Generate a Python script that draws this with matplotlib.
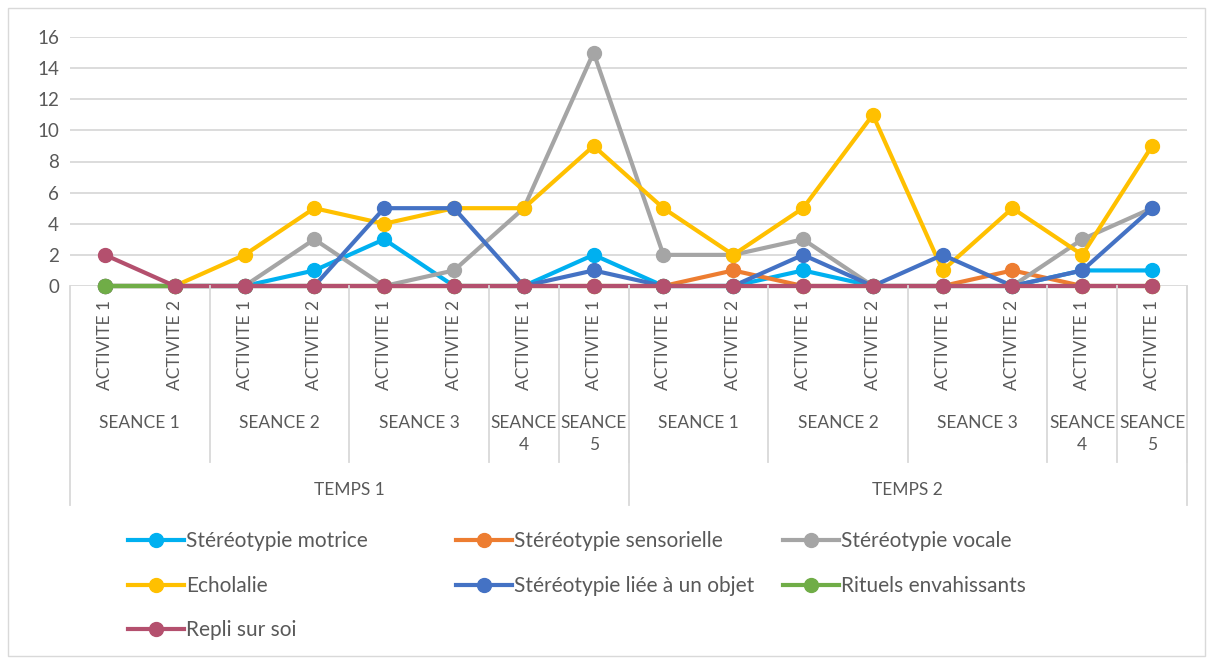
import matplotlib
matplotlib.use("Agg")
import matplotlib.pyplot as plt
import matplotlib.transforms as mtransforms
from matplotlib.lines import Line2D
import numpy as np

plt.rcParams['font.family'] = ['Lato', 'DejaVu Sans']

# categories (multi-level x axis)
activites = ["ACTIVITE 1", "ACTIVITE 2", "ACTIVITE 1", "ACTIVITE 2", "ACTIVITE 1", "ACTIVITE 2",
             "ACTIVITE 1", "ACTIVITE 1",
             "ACTIVITE 1", "ACTIVITE 2", "ACTIVITE 1", "ACTIVITE 2", "ACTIVITE 1", "ACTIVITE 2",
             "ACTIVITE 1", "ACTIVITE 1"]
seances = ["SEANCE 1", "SEANCE 2", "SEANCE 3", "SEANCE\n4", "SEANCE\n5",
           "SEANCE 1", "SEANCE 2", "SEANCE 3", "SEANCE\n4", "SEANCE\n5"]
seance_sizes = [2, 2, 2, 1, 1, 2, 2, 2, 1, 1]
temps = ["TEMPS 1", "TEMPS 2"]
temps_sizes = [8, 8]

# series
motrice = [0, 0, 0, 1, 3, 0, 0, 2, 0, 0, 1, 0, 0, 0, 1, 1]
sensorielle = [0, 0, 0, 0, 0, 0, 0, 0, 0, 1, 0, 0, 0, 1, 0, 0]
vocale = [0, 0, 0, 3, 0, 1, 5, 15, 2, 2, 3, 0, 0, 0, 3, 5]
echolalie = [0, 0, 2, 5, 4, 5, 5, 9, 5, 2, 5, 11, 1, 5, 2, 9]
objet = [0, 0, 0, 0, 5, 5, 0, 1, 0, 0, 2, 0, 2, 0, 1, 5]
rituels = [0] * 16
repli = [2, 0, 0, 0, 0, 0, 0, 0, 0, 0, 0, 0, 0, 0, 0, 0]

series = [
    ("Stéréotypie motrice", motrice, "#00B0F0"),
    ("Stéréotypie sensorielle", sensorielle, "#ED7D31"),
    ("Stéréotypie vocale", vocale, "#A5A5A5"),
    ("Echolalie", echolalie, "#FFC000"),
    ("Stéréotypie liée à un objet", objet, "#4472C4"),
    ("Rituels envahissants", rituels, "#70AD47"),
    ("Repli sur soi", repli, "#B4506E"),
]

W, H = 1213, 662
fig = plt.figure(figsize=(W / 100, H / 100), dpi=100)
ax = fig.add_axes([70 / W, 1 - 286 / H, (1187 - 70) / W, (286 - 37) / H])

x = np.arange(len(activites))
for name, vals, col in series:
    ax.plot(x, vals, color=col, lw=3, marker='o', ms=10, label=name,
            solid_capstyle='round', zorder=3, clip_on=False)

ax.set_xlim(-0.5, len(activites) - 0.5)
ax.set_ylim(0, 16)
ax.set_yticks(range(0, 17, 2))
ax.yaxis.grid(True, color="#D9D9D9", lw=1.3)
ax.set_axisbelow(True)
for s in ax.spines.values():
    s.set_visible(False)
ax.tick_params(axis='y', length=0, pad=8, labelsize=13.5, labelcolor="#595959")
ax.set_xticks([])

grey = "#D9D9D9"
txt = "#595959"
tr = mtransforms.blended_transform_factory(ax.transData, fig.transFigure)

def fy(px):
    return 1 - px / H

# activity labels
for i, lab in enumerate(activites):
    fig.text(i, fy(300), lab, transform=tr, rotation=90, ha='center', va='top',
             fontsize=12.5, color=txt)

# seance level
pos = -0.5
for lab, n in zip(seances, seance_sizes):
    c = pos + n / 2
    fig.text(c, fy(415), lab, transform=tr, ha='center', va='top',
             fontsize=12.5, color=txt, linespacing=1.45)
    pos += n
    fig.add_artist(Line2D([pos, pos], [fy(286), fy(462)], transform=tr, color=grey, lw=1.3))

# temps level
pos = -0.5
fig.add_artist(Line2D([pos, pos], [fy(286), fy(505)], transform=tr, color=grey, lw=1.3))
for lab, n in zip(temps, temps_sizes):
    fig.text(pos + n / 2, fy(482), lab, transform=tr, ha='center', va='top',
             fontsize=12.5, color=txt)
    pos += n
    fig.add_artist(Line2D([pos, pos], [fy(286), fy(505)], transform=tr, color=grey, lw=1.3))

# legend, laid out row by row like the original
col_x = [128, 456, 783]
row_y = [541, 586, 630]
for k, (name, vals, col) in enumerate(series):
    h = Line2D([], [], color=col, lw=3, marker='o', ms=10)
    fig.legend([h], [name], loc='center left',
               bbox_to_anchor=(col_x[k % 3] / W, fy(row_y[k // 3])),
               frameon=False, fontsize=15, labelcolor=txt, handlelength=2.7,
               handletextpad=0.1, borderpad=0, borderaxespad=0)

# chart border
fig.add_artist(plt.Rectangle((8 / W, 1 - 656 / H), (1205 - 8) / W, (656 - 8) / H,
                             transform=fig.transFigure, fill=False, ec=grey, lw=1))

fig.savefig("out.png", dpi=100)
